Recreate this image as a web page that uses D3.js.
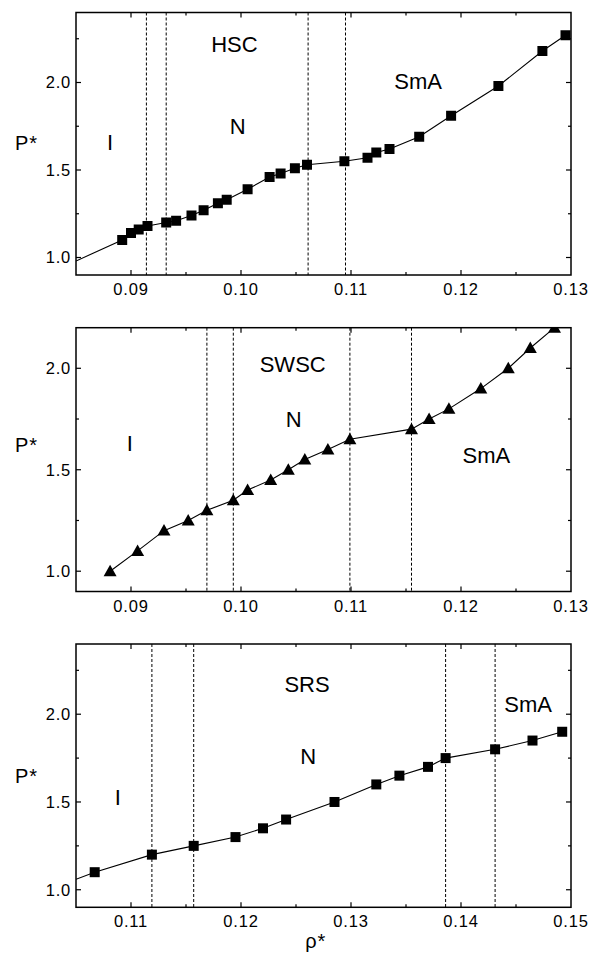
<!DOCTYPE html>
<html>
<head>
<meta charset="utf-8">
<script src="https://cdn.jsdelivr.net/npm/d3@7"></script>
<style>
  body { margin: 0; background: #fff; }
  svg text { font-family: "Liberation Sans", Arial, sans-serif; fill: #000; }
</style>
</head>
<body>
<div id="chart"></div>
<script>
// HSC (squares)
const hscRho = [0.0892, 0.0900, 0.0907, 0.0915, 0.0932, 0.0941, 0.0955, 0.0966, 0.0979, 0.0987, 0.1006, 0.1026,
  0.1036, 0.1049, 0.1060, 0.1094, 0.1115, 0.1123, 0.1135, 0.1162, 0.1191, 0.1234, 0.1274, 0.1295];
const hscP = [1.10, 1.14, 1.16, 1.18, 1.20, 1.21, 1.24, 1.27, 1.31, 1.33, 1.39, 1.46,
  1.48, 1.51, 1.53, 1.55, 1.57, 1.60, 1.62, 1.69, 1.81, 1.98, 2.18, 2.27];
const hscLineStart = [0.085, 0.98];
const hscBounds = [0.0914, 0.0932, 0.1061, 0.1095];

// SWSC (triangles)
const swscRho = [0.0881, 0.0906, 0.0930, 0.0952, 0.0969, 0.0993, 0.1006, 0.1027, 0.1043, 0.1058, 0.1079, 0.1099,
  0.1155, 0.1171, 0.1189, 0.1218, 0.1243, 0.1263, 0.1285];
const swscP = [1.00, 1.10, 1.20, 1.25, 1.30, 1.35, 1.40, 1.45, 1.50, 1.55, 1.60, 1.65,
  1.70, 1.75, 1.80, 1.90, 2.00, 2.10, 2.20];
const swscBounds = [0.0969, 0.0993, 0.1099, 0.1155];

// SRS (squares)
const srsRho = [0.1067, 0.1119, 0.1157, 0.1195, 0.1220, 0.1241, 0.1285, 0.1323, 0.1344, 0.1370, 0.1386, 0.1431, 0.1465, 0.1492];
const srsP = [1.10, 1.20, 1.25, 1.30, 1.35, 1.40, 1.50, 1.60, 1.65, 1.70, 1.75, 1.80, 1.85, 1.90];
const srsLineStart = [0.105, 1.06];
const srsBounds = [0.1119, 0.1157, 0.1386, 0.1431];

const xTicks1 = [0.09, 0.10, 0.11, 0.12, 0.13];
const xTicks3 = [0.11, 0.12, 0.13, 0.14, 0.15];
const yTicks = [1.0, 1.5, 2.0];

// phase labels [text, rho, P]
const hscLabels = [["I", 0.0881, 1.66], ["HSC", 0.0994, 2.22], ["N", 0.0997, 1.75], ["SmA", 0.1161, 2.01]];
const swscLabels = [["I", 0.0899, 1.63], ["SWSC", 0.1047, 2.02], ["N", 0.1048, 1.75], ["SmA", 0.1223, 1.57]];
const srsLabels = [["I", 0.1088, 1.53], ["SRS", 0.1260, 2.17], ["N", 0.1261, 1.76], ["SmA", 0.1461, 2.06]];

const svg = d3.select("#chart").append("svg")
  .attr("width", 591)
  .attr("height", 958);

const left = 76, right = 571;

function drawPanel(opt, idx) {
  const x = d3.scaleLinear().domain(opt.xDomain).range([left, right]);
  const y = d3.scaleLinear().domain(opt.yDomain).range([opt.bottom, opt.top]);
  const g = svg.append("g");

  const clipId = "clip" + idx;
  g.append("clipPath").attr("id", clipId)
    .append("rect")
    .attr("x", left).attr("y", opt.top)
    .attr("width", right - left).attr("height", opt.bottom - opt.top);

  // dashed phase boundaries
  g.selectAll(".bound").data(opt.bounds).enter().append("line")
    .attr("x1", d => x(d)).attr("x2", d => x(d))
    .attr("y1", opt.top).attr("y2", opt.bottom)
    .attr("stroke", "#000").attr("stroke-width", 1)
    .attr("stroke-dasharray", "3,2");

  // connecting line
  const pts = opt.rho.map((r, i) => [r, opt.p[i]]);
  const linePts = opt.lineStart ? [opt.lineStart].concat(pts) : pts;
  const plot = g.append("g").attr("clip-path", `url(#${clipId})`);
  plot.append("path")
    .datum(linePts)
    .attr("fill", "none")
    .attr("stroke", "#000")
    .attr("stroke-width", 1.1)
    .attr("d", d3.line().x(d => x(d[0])).y(d => y(d[1])));

  // markers
  if (opt.marker === "square") {
    plot.selectAll("rect.m").data(pts).enter().append("rect")
      .attr("x", d => x(d[0]) - 5).attr("y", d => y(d[1]) - 5)
      .attr("width", 10).attr("height", 10)
      .attr("fill", "#000");
  } else {
    plot.selectAll("path.m").data(pts).enter().append("path")
      .attr("d", d => {
        const cx = x(d[0]), cy = y(d[1]);
        return `M${cx},${cy - 6.5}L${cx + 6.5},${cy + 5}L${cx - 6.5},${cy + 5}Z`;
      })
      .attr("fill", "#000");
  }

  // frame
  g.append("rect")
    .attr("x", left).attr("y", opt.top)
    .attr("width", right - left).attr("height", opt.bottom - opt.top)
    .attr("fill", "none").attr("stroke", "#000").attr("stroke-width", 1.5);

  // ticks (inward on all four sides)
  const xMinor = d3.range(opt.xDomain[0], opt.xDomain[1] + 1e-9, 0.005)
    .filter(v => v > opt.xDomain[0] + 1e-9 && v < opt.xDomain[1] - 1e-9);
  const yMinor = d3.range(1.0, opt.yDomain[1] + 1e-9, 0.25)
    .filter(v => v < opt.yDomain[1] - 1e-9);
  const tickG = g.append("g").attr("stroke", "#000").attr("stroke-width", 1.2);
  xMinor.forEach(v => {
    const len = opt.xTicks.some(t => Math.abs(t - v) < 1e-6) ? 5 : 3;
    tickG.append("line").attr("x1", x(v)).attr("x2", x(v)).attr("y1", opt.bottom).attr("y2", opt.bottom - len);
    tickG.append("line").attr("x1", x(v)).attr("x2", x(v)).attr("y1", opt.top).attr("y2", opt.top + len);
  });
  yMinor.forEach(v => {
    const len = yTicks.some(t => Math.abs(t - v) < 1e-6) ? 5 : 3;
    tickG.append("line").attr("y1", y(v)).attr("y2", y(v)).attr("x1", left).attr("x2", left + len);
    tickG.append("line").attr("y1", y(v)).attr("y2", y(v)).attr("x1", right).attr("x2", right - len);
  });

  // tick labels
  g.selectAll(".xl").data(opt.xTicks).enter().append("text")
    .attr("x", d => x(d)).attr("y", opt.bottom + 20)
    .attr("text-anchor", "middle")
    .style("font-size", "16.5px").style("letter-spacing", "0.8px")
    .text(d => d3.format(".2f")(d));
  g.selectAll(".yl").data(yTicks).enter().append("text")
    .attr("x", 71).attr("y", d => y(d)).attr("dy", "0.36em")
    .attr("text-anchor", "end")
    .style("font-size", "16.5px").style("letter-spacing", "0.8px")
    .text(d => d3.format(".1f")(d));

  // axis title
  g.append("text")
    .attr("x", 15).attr("y", opt.pLabelY)
    .style("font-size", "20px").style("letter-spacing", "1px")
    .text("P*");

  // phase labels
  g.selectAll(".pl").data(opt.labels).enter().append("text")
    .attr("x", d => x(d[1])).attr("y", d => y(d[2])).attr("dy", "0.36em")
    .attr("text-anchor", "middle")
    .style("font-size", "22px")
    .text(d => d[0]);

  return x;
}

drawPanel({
  top: 12.5, bottom: 275, xDomain: [0.085, 0.13], yDomain: [0.9, 2.4],
  rho: hscRho, p: hscP, lineStart: hscLineStart, bounds: hscBounds,
  marker: "square", xTicks: xTicks1, labels: hscLabels, pLabelY: 150
}, 1);

drawPanel({
  top: 327.7, bottom: 591.5, xDomain: [0.085, 0.13], yDomain: [0.9, 2.2],
  rho: swscRho, p: swscP, lineStart: null, bounds: swscBounds,
  marker: "triangle", xTicks: xTicks1, labels: swscLabels, pLabelY: 452
}, 2);

const x3 = drawPanel({
  top: 644, bottom: 907.3, xDomain: [0.105, 0.15], yDomain: [0.9, 2.4],
  rho: srsRho, p: srsP, lineStart: srsLineStart, bounds: srsBounds,
  marker: "square", xTicks: xTicks3, labels: srsLabels, pLabelY: 783
}, 3);

svg.append("text")
  .attr("x", x3(0.1268)).attr("y", 948)
  .attr("text-anchor", "middle")
  .style("font-size", "20px").style("letter-spacing", "1px")
  .text("ρ*");
</script>
</body>
</html>
